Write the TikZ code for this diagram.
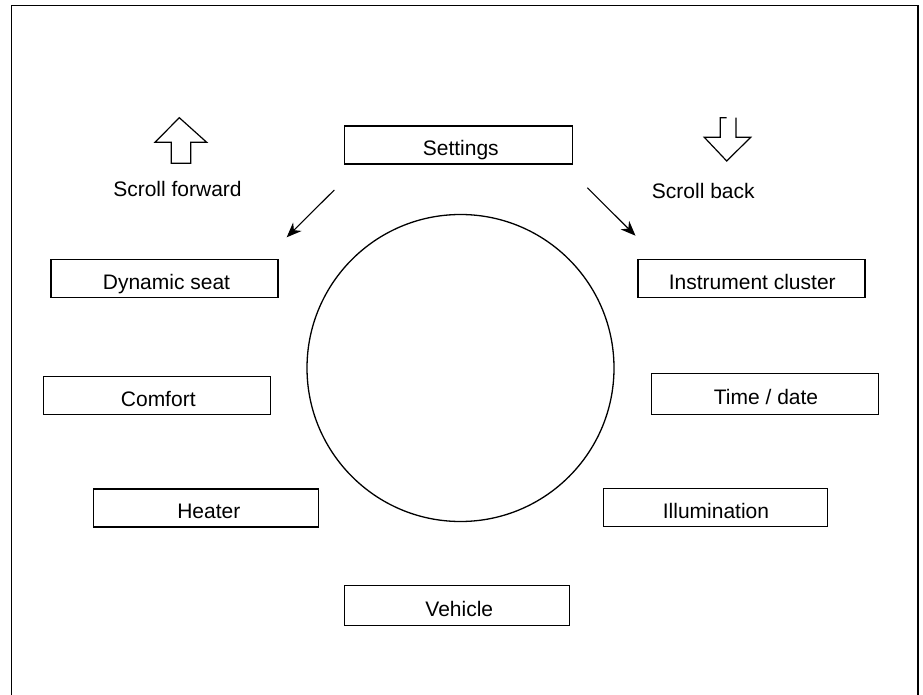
\documentclass[tikz,border=0pt]{standalone}
\usepackage{fontspec}
\setmainfont{Liberation Sans}
\usetikzlibrary{arrows.meta}
\begin{document}
\begin{tikzpicture}[x=1pt,y=-1pt,
  menubox/.style={draw,line width=1.2pt,inner sep=0pt,minimum height=38pt,minimum width=227pt,
    text height=21.4pt,text depth=0pt,font=\fontsize{21}{25}\selectfont},
  lbl/.style={inner sep=0pt,font=\fontsize{21}{25}\selectfont},
  scrollarrow/.style={line width=1.1pt,-{Stealth[length=15pt,width=12pt]}},
  blockarrow/.style={draw,line width=1.2pt,line join=miter}]
\useasboundingbox (0,0) rectangle (923,695);
\draw[line width=1.4pt] (11.5,700) -- (11.5,5.5) -- (918,5.5) -- (918,700);

\node[draw,circle,line width=1.3pt,minimum size=307pt,inner sep=0pt] (dial) at (460.5,368) {};

\node[menubox,minimum width=228pt] (settings) at (458.3,145) {\hspace*{5pt}Settings};
\node[menubox] (dynseat) at (164.5,278.3) {\hspace*{4pt}Dynamic seat};
\node[menubox] (instr) at (751.5,278.5) {\hspace*{1.5pt}Instrument cluster};
\node[menubox] (comfort) at (157,395.8) {\hspace*{2.5pt}Comfort};
\node[menubox,minimum height=41pt] (timedate) at (764.8,394.2) {\hspace*{2.5pt}Time / date};
\node[menubox,minimum width=225pt] (heater) at (205.8,508) {\hspace*{6pt}Heater};
\node[menubox,minimum width=224.4pt] (illum) at (715.5,507.8) {\hspace*{1pt}Illumination};
\node[menubox,minimum width=225pt,minimum height=40pt] (vehicle) at (456.8,605.3) {\hspace*{5pt}Vehicle};

\node[lbl] (fwd) at (177.5,189) {Scroll forward};
\node[lbl] (back) at (703.3,191) {Scroll back};

\coordinate (la) at (334.3,190);
\coordinate (lb) at (286.7,237.3);
\coordinate (ra) at (587.3,187.7);
\coordinate (rb) at (635.5,235.7);
\draw[scrollarrow] (la) -- (lb);
\draw[scrollarrow] (ra) -- (rb);

% hollow up arrow (scroll forward)
\draw[blockarrow] (179.3,117.7) -- (206.7,142.3) -- (190.7,142.3) -- (190.7,163.3)
  -- (171.3,163.3) -- (171.3,142.3) -- (155,142.3) -- cycle;
% hollow down arrow (scroll back)
\draw[blockarrow] (726.5,117.7) -- (720.3,117.7) -- (720.3,137.3) -- (704.3,137.3)
  -- (726.7,161) -- (750.7,137.3) -- (736,137.3) -- (736,117.7);
\end{tikzpicture}
\end{document}
